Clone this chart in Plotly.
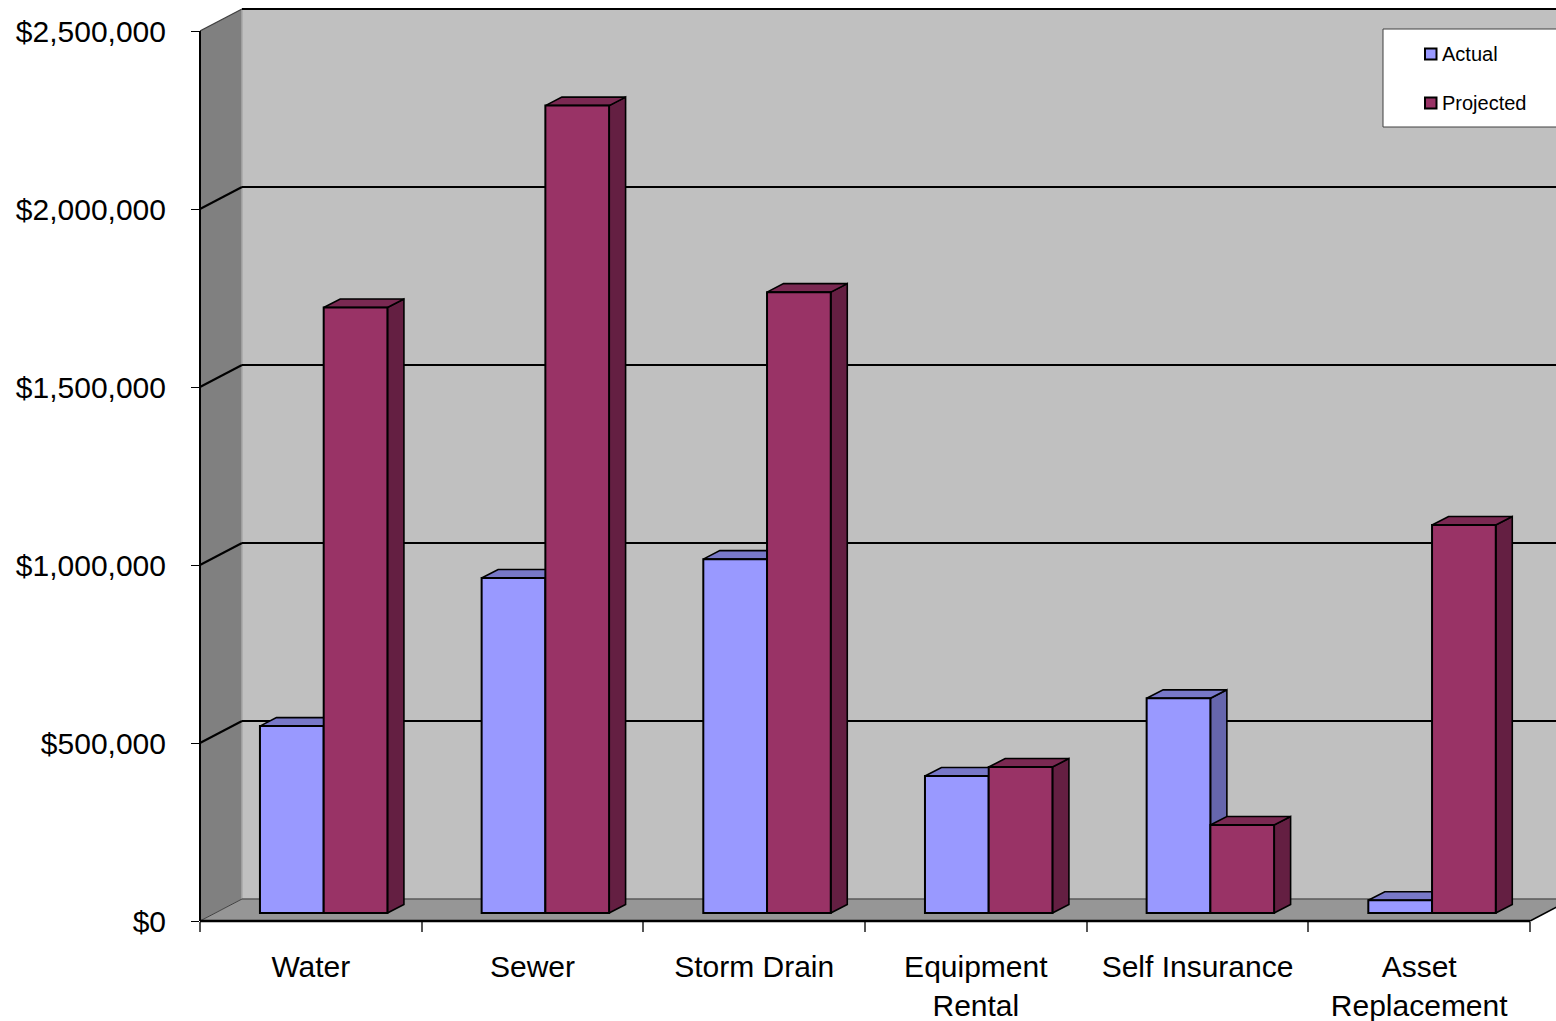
import plotly.graph_objects as go

# ---- data ----
categories = ["Water", "Sewer", "Storm Drain", "Equipment<br>Rental",
              "Self Insurance", "Asset<br>Replacement"]
actual = [525000, 941000, 994000, 385000, 603000, 36000]
projected = [1701000, 2268000, 1744000, 410000, 247000, 1090000]
y_ticks = [0, 500000, 1000000, 1500000, 2000000, 2500000]
y_tick_labels = ["$0", "$500,000", "$1,000,000", "$1,500,000", "$2,000,000", "$2,500,000"]
series_names = ["Actual", "Projected"]

# ---- geometry of the pseudo-3D frame ----
W, H = 1556, 1021
ML, MR, MT, MB = 200, 0, 0, 100
PLOT_W, PLOT_H = W - ML - MR, H - MT - MB
CAT_PX = 221.67            # pixels per category slot
PX_PER_MILLION = 356.0     # pixels per $1,000,000

def dx(px):
    return px / CAT_PX

def dy(px):
    return px * 1e6 / PX_PER_MILLION

X_MAX = dx(PLOT_W)
Y_MAX = dy(PLOT_H)
N = len(categories)
TOP = y_ticks[-1]

WALL_DX, WALL_DY = dx(42), dy(22)        # wall depth
BAR_BASE = dy(8)                         # bars stand this far back
BAR_DX, BAR_DY = dx(16.5), dy(8.5)       # bar depth
BAR_W = 0.2875
GROUP_CENTER = 0.558

C_WALL = "#C0C0C0"
C_SIDE = "#808080"
C_FLOOR = "#969696"
colors = {
    "Actual": ("#9999FF", "#7878C8", "#6666AD"),      # front, top, side
    "Projected": ("#993366", "#7A2952", "#641F42"),
}


def px_paper_x(x):
    return x / X_MAX


def px_paper_y(y):
    return y / Y_MAX


fig = go.Figure()

# ---- bars: front faces as bar traces, top/side faces as filled outlines ----
for s_idx, (name, values) in enumerate(zip(series_names, [actual, projected])):
    front, top_c, side_c = colors[name]
    xs = [i + GROUP_CENTER + (s_idx - 0.5) * BAR_W for i in range(N)]
    z = 2 * s_idx

    side_x, side_y, top_x, top_y = [], [], [], []
    for xc, v in zip(xs, values):
        x0, x1 = xc - BAR_W / 2, xc + BAR_W / 2
        y0, y1 = BAR_BASE, BAR_BASE + v
        side_x += [x1, x1 + BAR_DX, x1 + BAR_DX, x1, x1, None]
        side_y += [y0, y0 + BAR_DY, y1 + BAR_DY, y1, y0, None]
        top_x += [x0, x1, x1 + BAR_DX, x0 + BAR_DX, x0, None]
        top_y += [y1, y1, y1 + BAR_DY, y1 + BAR_DY, y1, None]

    fig.add_trace(go.Scatter(x=side_x, y=side_y, mode="lines", fill="toself",
                             fillcolor=side_c, line=dict(color="black", width=1.6),
                             hoverinfo="skip", showlegend=False, zorder=z))
    fig.add_trace(go.Scatter(x=top_x, y=top_y, mode="lines", fill="toself",
                             fillcolor=top_c, line=dict(color="black", width=1.6),
                             hoverinfo="skip", showlegend=False, zorder=z))
    fig.add_trace(go.Bar(x=xs, y=values, base=BAR_BASE, width=BAR_W, name=name,
                         marker=dict(color=front, line=dict(color="black", width=2)),
                         showlegend=False, zorder=z + 1))

# ---- walls, floor and gridlines ----
shapes = []
# back wall
shapes.append(dict(type="rect", xref="x", yref="y", layer="below",
                   x0=WALL_DX, x1=X_MAX + 1, y0=WALL_DY, y1=TOP + WALL_DY,
                   fillcolor=C_WALL, line=dict(width=0)))
# side wall
shapes.append(dict(type="path", xref="x", yref="y", layer="below",
                   path=f"M 0,0 L 0,{TOP} L {WALL_DX},{TOP + WALL_DY} L {WALL_DX},{WALL_DY} Z",
                   fillcolor=C_SIDE, line=dict(width=0)))
# edge between side wall and back wall
shapes.append(dict(type="line", xref="x", yref="y", layer="below",
                   x0=WALL_DX, x1=WALL_DX, y0=WALL_DY, y1=TOP + WALL_DY,
                   line=dict(color="#A8A8A8", width=1.5)))
# floor
shapes.append(dict(type="path", xref="x", yref="y", layer="below",
                   path=f"M 0,0 L {WALL_DX},{WALL_DY} L {N + WALL_DX},{WALL_DY} L {N},0 Z",
                   fillcolor=C_FLOOR, line=dict(width=0)))
shapes.append(dict(type="line", xref="x", yref="y", layer="below",
                   x0=WALL_DX, x1=X_MAX + 1, y0=WALL_DY, y1=WALL_DY,
                   line=dict(color="#5A5A5A", width=1.5)))
shapes.append(dict(type="line", xref="x", yref="y", layer="below",
                   x0=0, x1=WALL_DX, y0=0, y1=WALL_DY,
                   line=dict(color="#404040", width=1)))
# gridlines across side wall and back wall
for v in y_ticks[1:]:
    side_col = "#404040" if v == TOP else "black"
    shapes.append(dict(type="line", xref="x", yref="y", layer="below",
                       x0=0, x1=WALL_DX, y0=v, y1=v + WALL_DY,
                       line=dict(color=side_col, width=2 if v != TOP else 1.2)))
    shapes.append(dict(type="line", xref="x", yref="y", layer="below",
                       x0=WALL_DX, x1=X_MAX + 1, y0=v + WALL_DY, y1=v + WALL_DY,
                       line=dict(color="black", width=2)))
# front edges of the frame (value axis line, floor front and right edges)
shapes.append(dict(type="line", xref="paper", yref="paper", layer="above",
                   x0=0, x1=0, y0=0, y1=px_paper_y(TOP),
                   line=dict(color="black", width=2)))
shapes.append(dict(type="line", xref="paper", yref="paper", layer="above",
                   x0=0, x1=px_paper_x(N), y0=0, y1=0,
                   line=dict(color="black", width=2.5)))
shapes.append(dict(type="line", xref="paper", yref="paper", layer="above",
                   x0=px_paper_x(N), x1=px_paper_x(N + WALL_DX), y0=0, y1=px_paper_y(WALL_DY),
                   line=dict(color="black", width=1.5)))

# ---- legend box ----
def fx(px):
    return (px - ML) / PLOT_W


def fy(py):
    return 1 - (py - MT) / PLOT_H


shapes.append(dict(type="rect", xref="paper", yref="paper", layer="above",
                   x0=fx(1383), x1=fx(1600), y0=fy(127), y1=fy(29),
                   fillcolor="white", line=dict(color="#404040", width=1)))
annotations = []
for name, cy in zip(series_names, [54, 103]):
    shapes.append(dict(type="rect", xref="paper", yref="paper", layer="above",
                       x0=fx(1425), x1=fx(1436.5), y0=fy(cy + 5.5), y1=fy(cy - 5.5),
                       fillcolor=colors[name][0], line=dict(color="black", width=2)))
    annotations.append(dict(xref="paper", yref="paper", x=fx(1440), y=fy(cy),
                            xanchor="left", yanchor="middle", text=name, showarrow=False,
                            font=dict(size=20, color="black")))

FONT = "Liberation Sans, Arial, sans-serif"

fig.update_layout(
    width=W, height=H,
    margin=dict(l=ML, r=MR, t=MT, b=MB, pad=0),
    paper_bgcolor="white", plot_bgcolor="rgba(0,0,0,0)",
    font=dict(family=FONT, size=30, color="black"),
    barmode="overlay", showlegend=False,
    shapes=shapes, annotations=annotations,
    xaxis=dict(range=[0, X_MAX], showgrid=False, zeroline=False, showline=False,
               tickmode="array", tickvals=[i + 0.5 for i in range(N)], ticktext=categories,
               ticks="", ticklabelstandoff=25, tickfont=dict(size=30),
               minor=dict(tickmode="array", tickvals=list(range(N + 1)), ticks="outside",
                          ticklen=10, tickwidth=1.5, tickcolor="#555555"),
               fixedrange=True, automargin=False),
    yaxis=dict(range=[0, Y_MAX], showgrid=False, zeroline=False, showline=False,
               tickmode="array", tickvals=y_ticks, ticktext=y_tick_labels,
               ticks="outside", ticklen=8, tickwidth=1.2, tickcolor="black",
               ticklabelstandoff=19, tickfont=dict(size=30),
               fixedrange=True, automargin=False),
)

fig.write_html("out.html")
